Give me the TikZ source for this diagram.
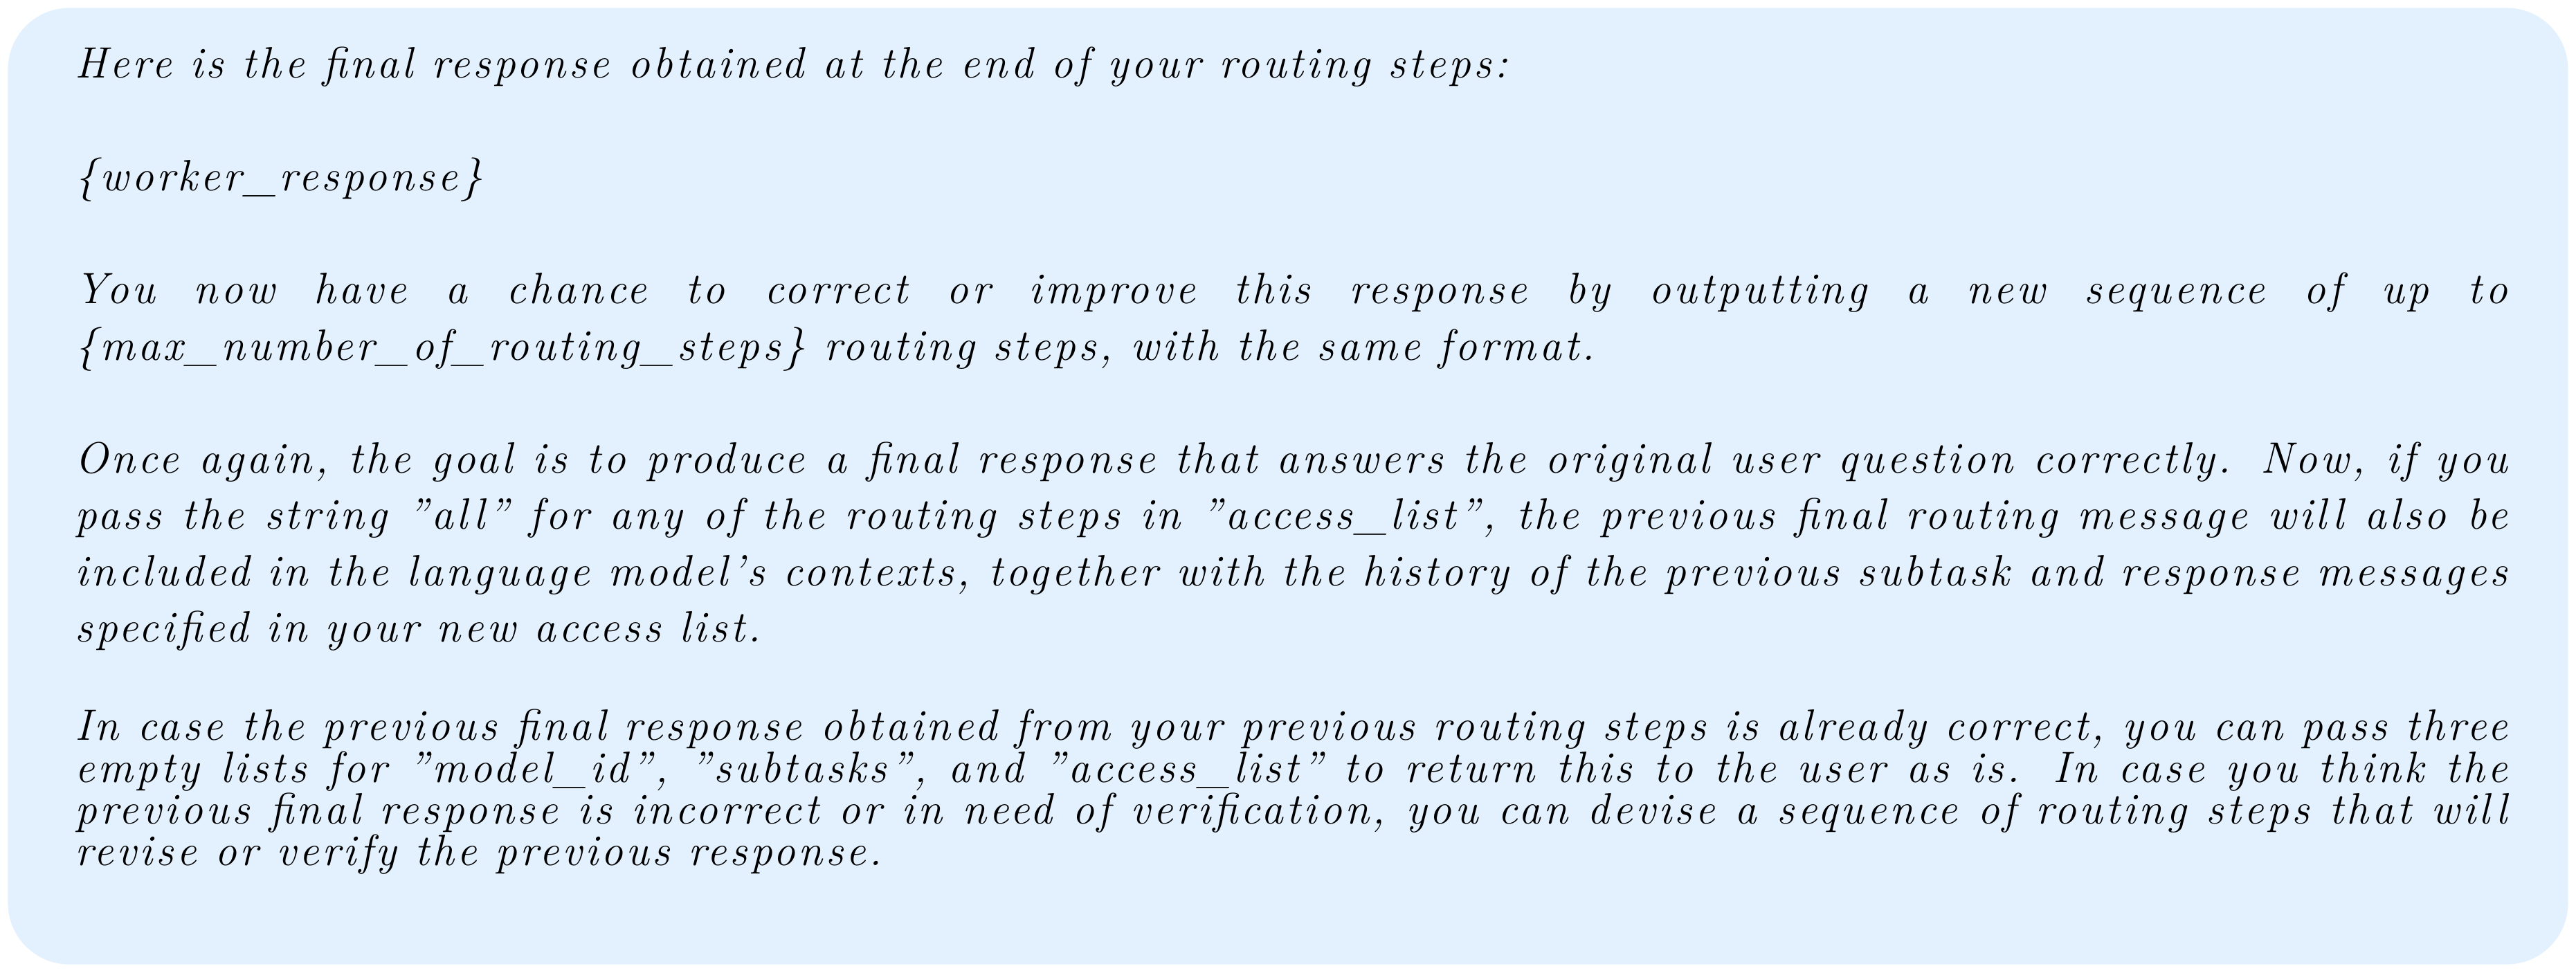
\documentclass[tikz,border=0pt]{standalone}
\usepackage{fontspec}
\setmainfont{Latin Modern Roman}[LetterSpace=7]
\definecolor{promptblue}{HTML}{E3F0FD}
\begin{document}
\begin{tikzpicture}[promptbox/.style={fill=promptblue, draw=none, rounded corners=0.62cm},
  prompttext/.style={anchor=north west, inner sep=0, text width=24.55cm, align=justify}]
	\useasboundingbox (0,0) rectangle (26,-9.815);
	\fill[promptbox] (0.08,-0.08) rectangle (25.92,-9.735);
	\node[prompttext] (body) at (0.75,-0.47) {\fontsize{12.6}{16.2}\selectfont\itshape\setlength{\parskip}{16.2pt}%
Here is the final response obtained at the end of your routing steps:

\{worker\_response\}

You now have a chance to correct or improve this response by outputting a new sequence of up to \{max\_number\_of\_routing\_steps\} routing steps, with the same format.

Once again, the goal is to produce a final response that answers the original user question correctly. Now, if you pass the string "all" for any of the routing steps in "access\_list", the previous final routing message will also be included in the language model's contexts, together with the history of the previous subtask and response messages specified in your new access list.

In case the previous final response obtained from your previous routing steps is already correct, you can pass three empty lists for "model\_id", "subtasks", and "access\_list" to return this to the user as is. In case you think the previous final response is incorrect or in need of verification, you can devise a sequence of routing steps that will revise or verify the previous response.};
\end{tikzpicture}
\end{document}
